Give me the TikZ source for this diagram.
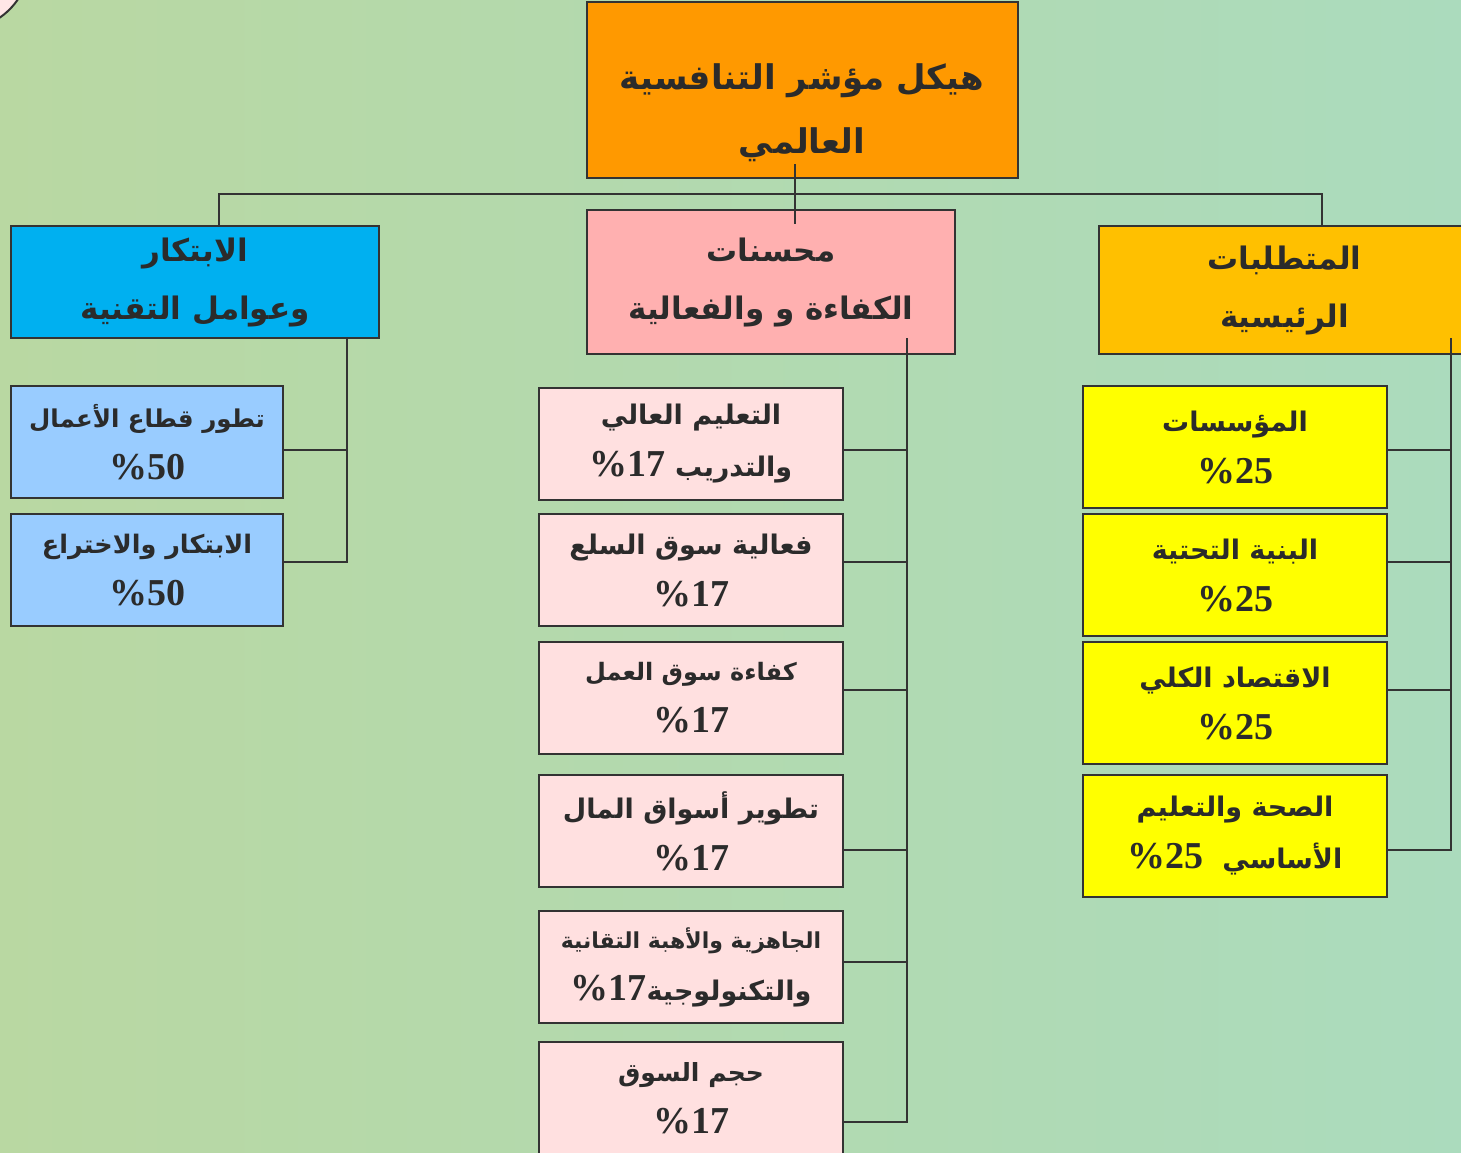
\documentclass[tikz,border=0pt]{standalone}
\usepackage{fontspec}
\setmainfont{Liberation Serif}
\newfontfamily\arabicfont[Script=Arabic]{DejaVu Sans}
\TeXXeTstate=1
\definecolor{lineC}{HTML}{333333}
\definecolor{txtC}{HTML}{2B2B2B}
\definecolor{topO}{HTML}{FF9900}
\definecolor{blueH}{HTML}{00B0F0}
\definecolor{blueC}{HTML}{99CCFF}
\definecolor{pinkH}{HTML}{FFB0B0}
\definecolor{pinkC}{HTML}{FFE0E0}
\definecolor{reqH}{HTML}{FFC000}
\definecolor{yelC}{HTML}{FFFF00}
\definecolor{bgL}{HTML}{B9D8A2}
\definecolor{bgR}{HTML}{ABDBBD}
\newcommand\AR[1]{{\arabicfont\bfseries\beginR #1\endR}}
\newcommand\ARF[1]{\arabicfont\bfseries\fontsize{#1}{52}\selectfont}
\newcommand\PC[1]{{\rmfamily\bfseries\fontsize{38}{40}\selectfont\%#1}}
\begin{document}
\begin{tikzpicture}[x=1pt,y=-1pt,
  box/.style={draw=lineC, line width=2pt, inner sep=0pt, align=center, text=txtC},
  headfont/.style={font=\fontsize{31}{58}\selectfont},
  childfont/.style={font=\fontsize{27}{52}\selectfont},
  conn/.style={draw=lineC, line width=2pt}]
\useasboundingbox (0,0) rectangle (1461,1152);
\fill[left color=bgL, right color=bgR] (0,0) rectangle (1461,1152);
% corner decoration
\draw[fill=pinkC!80!white, draw=lineC, line width=2pt] (-40,-40) circle (70);

% top box
\node[box, fill=topO, minimum width=431pt, minimum height=176pt] (top) at (802.5,90) {};
\node[text=txtC, align=center, font=\fontsize{34}{64}\selectfont] (topT) at (802,113) {\AR{هيكل مؤشر التنافسية}\\\AR{العالمي}};

% level 2
\node[box, headfont, fill=blueH, minimum width=368pt, minimum height=112pt] (blue) at (195,282) {\AR{الابتكار}\\\AR{وعوامل التقنية}};
\node[box, headfont, fill=pinkH, minimum width=368pt, minimum height=144pt] (pink) at (771,282) {\AR{محسنات}\\\AR{الكفاءة و والفعالية}};
\node[box, headfont, fill=reqH, minimum width=371pt, minimum height=128pt] (req) at (1284.5,290) {\AR{المتطلبات}\\\AR{الرئيسية}};

% left children
\node[box, childfont, fill=blueC, minimum width=272pt, minimum height=112pt] (l1) at (147,442) {{\ARF{24.5}\beginR تطور قطاع الأعمال\endR}\\\PC{50}};
\node[box, childfont, fill=blueC, minimum width=272pt, minimum height=112pt] (l2) at (147,570) {{\ARF{25.5}\beginR الابتكار والاختراع\endR}\\\PC{50}};

% middle children
\node[box, childfont, fill=pinkC, minimum width=304pt, minimum height=112pt] (m1) at (691,444) {\AR{التعليم العالي}\\\AR{والتدريب \beginL\PC{17}\endL}};
\node[box, childfont, fill=pinkC, minimum width=304pt, minimum height=112pt] (m2) at (691,570) {\AR{فعالية سوق السلع}\\\PC{17}};
\node[box, childfont, fill=pinkC, minimum width=304pt, minimum height=112pt] (m3) at (691,698) {{\ARF{24}\beginR كفاءة سوق العمل\endR}\\\PC{17}};
\node[box, childfont, fill=pinkC, minimum width=304pt, minimum height=112pt] (m4) at (691,831) {\AR{تطوير أسواق المال}\\\PC{17}};
\node[box, childfont, fill=pinkC, minimum width=304pt, minimum height=112pt] (m5) at (691,967) {{\ARF{22}\beginR الجاهزية والأهبة التقانية\endR}\\\AR{والتكنولوجية\beginL\PC{17}\endL}};
\node[box, childfont, fill=pinkC, minimum width=304pt, minimum height=112pt] (m6) at (691,1098) {{\ARF{25}\beginR حجم السوق\endR}\\\PC{17}};

% right children
\node[box, childfont, fill=yelC, minimum width=304pt, minimum height=122pt] (r1) at (1235,447) {\AR{المؤسسات}\\\PC{25}};
\node[box, childfont, fill=yelC, minimum width=304pt, minimum height=122pt] (r2) at (1235,575) {\AR{البنية التحتية}\\\PC{25}};
\node[box, childfont, fill=yelC, minimum width=304pt, minimum height=122pt] (r3) at (1235,703) {\AR{الاقتصاد الكلي}\\\PC{25}};
\node[box, childfont, fill=yelC, minimum width=304pt, minimum height=122pt] (r4) at (1235,836) {\AR{الصحة والتعليم}\\\AR{الأساسي\ \ \beginL\PC{25}\endL}};

% top connectors
\coordinate (busL) at (219,194);
\coordinate (busR) at (1322,194);
\draw[conn] ([xshift=-7.5pt,yshift=15pt]top.south) -- ([xshift=24pt,yshift=-15pt]pink.north);
\draw[conn] (blue.north -| busL) -- (busL) -- (busR) -- (req.north -| busR);

% left spine
\coordinate (hl1) at (347,450);
\coordinate (hl2) at (347,562);
\draw[conn] (blue.south -| hl1) -- (hl2) -- (hl2 -| l2.east);
\draw[conn] (hl1 -| l1.east) -- (hl1);

% middle spine
\coordinate (sm) at (907,338);
\coordinate (hm1) at (907,450);
\coordinate (hm2) at (907,562);
\coordinate (hm3) at (907,690);
\coordinate (hm4) at (907,850);
\coordinate (hm5) at (907,962);
\coordinate (hm6) at (907,1122);
\draw[conn] (sm) -- (hm6) -- (hm6 -| m6.east);
\foreach \i in {1,...,5} {\draw[conn] (hm\i -| m\i.east) -- (hm\i);}

% right spine
\coordinate (sr) at (1451,338);
\coordinate (hr1) at (1451,450);
\coordinate (hr2) at (1451,562);
\coordinate (hr3) at (1451,690);
\coordinate (hr4) at (1451,850);
\draw[conn] (sr) -- (hr4) -- (hr4 -| r4.east);
\foreach \i in {1,2,3} {\draw[conn] (hr\i -| r\i.east) -- (hr\i);}
\end{tikzpicture}
\end{document}
